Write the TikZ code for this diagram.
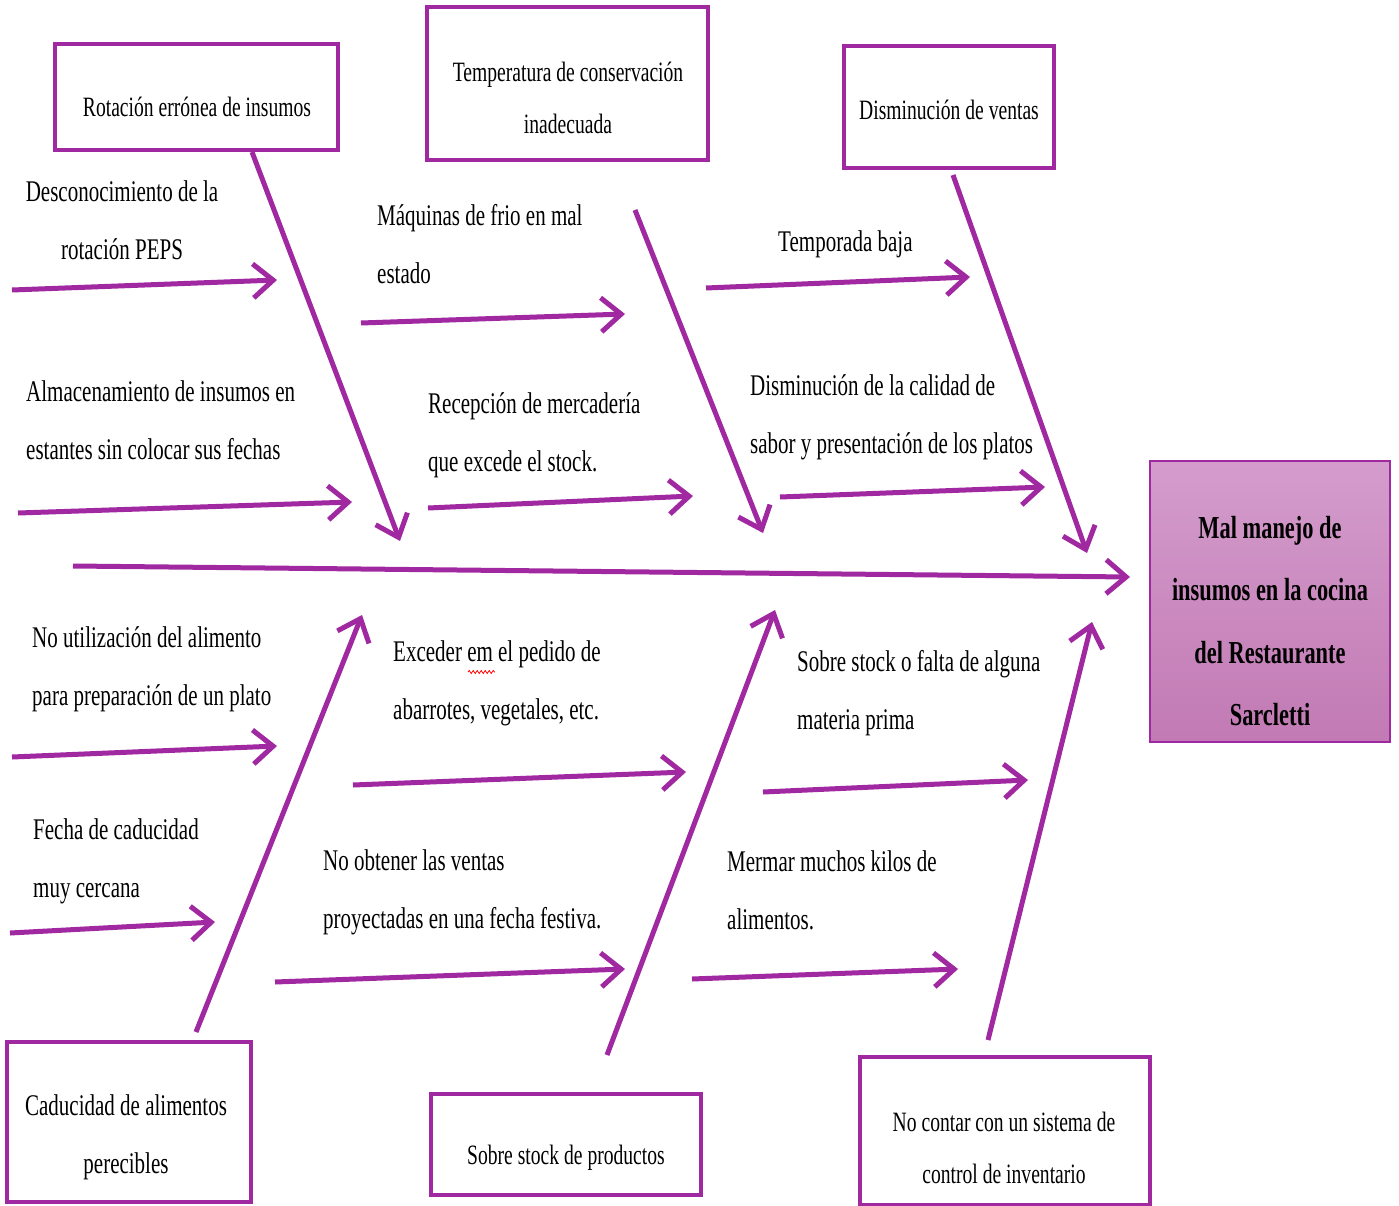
\documentclass[tikz,border=0pt]{standalone}
\usepackage{fontspec}
\setmainfont[FakeStretch=0.7]{Liberation Serif}
\usetikzlibrary{arrows.meta,decorations.pathmorphing}
\definecolor{pur}{RGB}{160,40,160}
\definecolor{headtop}{RGB}{212,156,204}
\definecolor{headbot}{RGB}{194,122,180}
\begin{document}
\begin{tikzpicture}[x=1pt,y=-1pt,
  bone/.style={pur,line width=5pt,-{Straight Barb[length=20pt,width=34pt]}},
  sub/.style={pur,line width=5pt,-{Straight Barb[length=20pt,width=34pt]}},
  cbox/.style={draw=pur,line width=4pt,inner sep=0pt},
  txt/.style={font=\fontsize{30}{58}\selectfont,align=left,inner sep=0pt},
  btxt/.style={font=\fontsize{28}{52}\selectfont,align=center,inner sep=0pt},
  htxt/.style={font=\bfseries\fontsize{32}{62.5}\selectfont,align=center,inner sep=0pt}]
\useasboundingbox[fill=white] (0,0) rectangle (1399,1206);

% category boxes
\node[cbox,minimum width=283pt,minimum height=106pt] (c1) at (196.5,97) {};
\node[cbox,minimum width=281pt,minimum height=153pt] (c2) at (567.5,83.5) {};
\node[cbox,minimum width=210pt,minimum height=122pt] (c3) at (949,107) {};
\node[cbox,minimum width=244pt,minimum height=160pt] (c4) at (129,1122) {};
\node[cbox,minimum width=270pt,minimum height=101pt] (c5) at (566,1144.5) {};
\node[cbox,minimum width=290pt,minimum height=148pt] (c6) at (1005,1131) {};
\node[draw=pur,line width=2pt,top color=headtop,bottom color=headbot,minimum width=240pt,minimum height=281pt,inner sep=0pt] (head) at (1270,601.5) {};

\node[btxt] (t1) at (197,107) {Rotación errónea de insumos};
\node[btxt] (t2) at (568,98) {Temperatura de conservación\\inadecuada};
\node[btxt] (t3) at (949,110) {Disminución de ventas};
\node[btxt,font=\fontsize{30}{58}\selectfont] (t4) at (126,1137) {Caducidad de alimentos\\perecibles};
\node[btxt] (t5) at (566,1158) {Sobre stock de productos};
\node[btxt] (t6) at (1004,1148) {No contar con un sistema de\\control de inventario};
\node[htxt] (th) at (1270,621) {Mal manejo de\\insumos en la cocina\\del Restaurante\\Sarcletti};

% spine
\coordinate (s0) at (73,566);
\coordinate (s1) at (1130,577);
\draw[bone] (s0) -- (s1);

% bones
\coordinate (b1s) at (252,152); \coordinate (b1e) at (400,541);
\coordinate (b2s) at (635,210); \coordinate (b2e) at (763,533);
\coordinate (b3s) at (953,175); \coordinate (b3e) at (1087,553);
\coordinate (b4s) at (196,1032); \coordinate (b4e) at (362,615);
\coordinate (b5s) at (607,1055); \coordinate (b5e) at (775,610);
\coordinate (b6s) at (988,1040); \coordinate (b6e) at (1092,622);
\draw[bone] (b1s) -- (b1e);
\draw[bone] (b2s) -- (b2e);
\draw[bone] (b3s) -- (b3e);
\draw[bone] (b4s) -- (b4e);
\draw[bone] (b5s) -- (b5e);
\draw[bone] (b6s) -- (b6e);

% sub-causes
\node[txt,align=center] (d1) at (122,220) {Desconocimiento de la\\rotación PEPS};
\node[txt,anchor=west] (d2) at (26,420) {Almacenamiento de insumos en\\estantes sin colocar sus fechas};
\node[txt,anchor=west] (d3) at (377,244) {Máquinas de frio en mal\\estado};
\node[txt,anchor=west] (d4) at (428,435.5) {Recepción de mercadería\\que excede el stock.};
\node[txt,anchor=west] (d5) at (778,244) {Temporada baja};
\node[txt,anchor=west] (d6) at (750,417.5) {Disminución de la calidad de\\sabor y presentación de los platos};
\node[txt,anchor=west] (d7) at (32,669.5) {No utilización del alimento\\para preparación de un plato};
\node[txt,anchor=west] (d8) at (33,861) {Fecha de caducidad\\muy cercana};
\node[txt,anchor=west] (d9) at (393,683) {Exceder em el pedido de\\abarrotes, vegetales, etc.};
\node[txt,anchor=west] (d10) at (323,892) {No obtener las ventas\\proyectadas en una fecha festiva.};
\node[txt,anchor=west] (d11) at (797,693) {Sobre stock o falta de alguna\\materia prima};
\node[txt,anchor=west] (d12) at (727,890) {Mermar muchos kilos de\\alimentos.};

\coordinate (a1s) at (12,290);  \coordinate (a1e) at (277,280);
\coordinate (a2s) at (18,513);  \coordinate (a2e) at (352,502);
\coordinate (a3s) at (361,323); \coordinate (a3e) at (625,314);
\coordinate (a4s) at (428,508); \coordinate (a4e) at (693,496);
\coordinate (a5s) at (706,288); \coordinate (a5e) at (970,277);
\coordinate (a6s) at (780,497); \coordinate (a6e) at (1045,487);
\coordinate (a7s) at (12,757);  \coordinate (a7e) at (277,746);
\coordinate (a8s) at (10,933);  \coordinate (a8e) at (215,922);
\coordinate (a9s) at (353,785); \coordinate (a9e) at (686,772);
\coordinate (a10s) at (275,982); \coordinate (a10e) at (625,969);
\coordinate (a11s) at (763,792); \coordinate (a11e) at (1028,780);
\coordinate (a12s) at (692,979); \coordinate (a12e) at (958,969);
\foreach \i in {1,...,12}{\draw[sub] (a\i s) -- (a\i e);}

% spell-check squiggle under "em"
\coordinate (q0) at (468,672); \coordinate (q1) at (495,672);
\draw[red,line width=0.8pt,decorate,decoration={snake,amplitude=1.5pt,segment length=4pt}] (q0) -- (q1);
\end{tikzpicture}
\end{document}
